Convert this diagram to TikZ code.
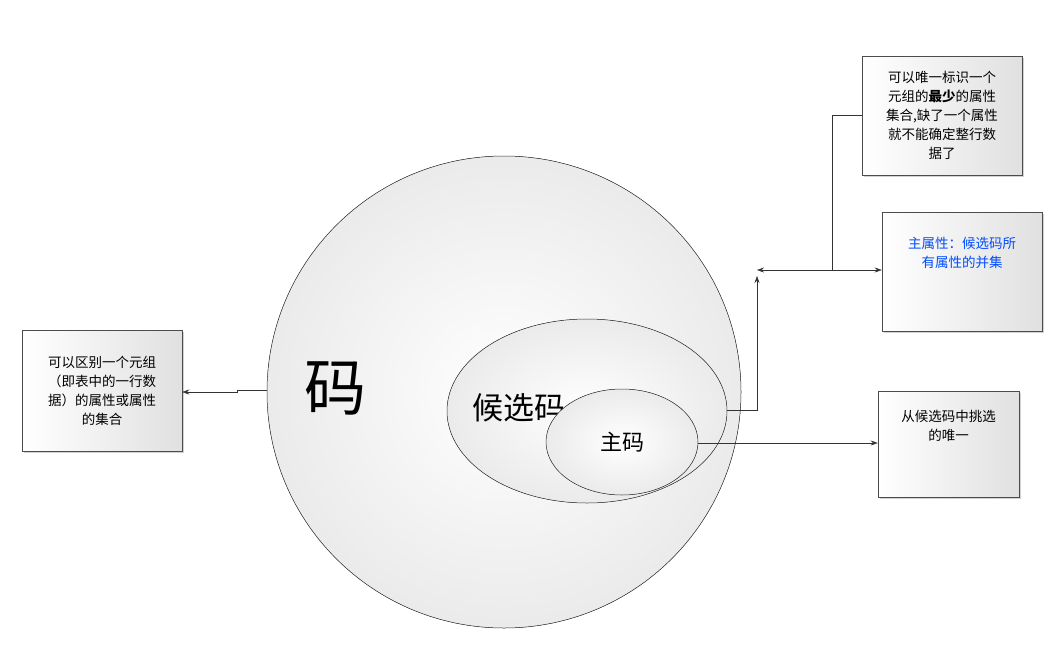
\documentclass[tikz,border=0pt]{standalone}
\usepackage{fontspec}
\setmainfont{Noto Sans CJK SC}
\usetikzlibrary{arrows.meta,shadows}
\tikzset{
 note/.style={draw=black!70,line width=0.5pt,left color=white,right color=black!12,
   minimum width=#1,align=center,inner sep=4pt,font=\fontsize{13.5}{19}\selectfont,
   drop shadow={shadow xshift=2pt,shadow yshift=-2pt,fill=black!35}},
 note/.default=160pt,
 ell/.style={draw=black!80,line width=0.5pt,inner color=white,outer color=black!8},
 con/.style={draw=black!80,line width=0.5pt},
 arr/.style={-{Stealth[length=7pt,width=5pt]}}
}
\begin{document}
\begin{tikzpicture}[x=1pt,y=-1pt]
\useasboundingbox (0,0) rectangle (1050,664);
\fill[ell] (504,392) ellipse [x radius=237,y radius=236];
\fill[ell] (587,411) ellipse [x radius=140,y radius=92];
\node (hx) at (519,408) {\fontsize{31}{31}\selectfont 候选码};
\fill[ell] (622,442) ellipse [x radius=76,y radius=53];
\node (ma) at (335,388) {\fontsize{62}{62}\selectfont 码};
\node (zm) at (622,442) {\fontsize{22}{22}\selectfont 主码};
\coordinate (bigL) at (267,390);
\coordinate (midR) at (727,410);
\coordinate (smR) at (698,443);
\node[note,minimum height=121pt] (L) at (102,390.5) {可以区别一个元组\\（即表中的一行数\\据）的属性或属性\\的集合};
\node[note,minimum height=119pt] (T) at (942,115.5) {可以唯一标识一个\\元组的\textbf{最少}的属性\\集合,缺了一个属性\\就不能确定整行数\\据了};
\node[note,minimum height=119pt,text=blue!70!cyan] (M) at (962,271.5) {主属性：候选码所\\有属性的并集\\ \\};
\node[note=141pt,minimum height=106pt] (B) at (948.5,444) {从候选码中挑选\\的唯一\\ \\};
\draw[con,arr] (bigL) -- (237,390) -- (237,392) -- (L.east |- 0,392);
\coordinate (j) at (757,270);
\draw[con,arr] (midR) -- (757,410) -- (757,276);
\draw[con,{Stealth[length=7pt,width=5pt]}-{Stealth[length=7pt,width=5pt]}] (j) -- (M.west |- j);
\draw[con] (832,270) -- (832,115) -- (T.west |- 0,115);
\draw[con,arr] (smR) -- (B.west |- smR);
\end{tikzpicture}
\end{document}
